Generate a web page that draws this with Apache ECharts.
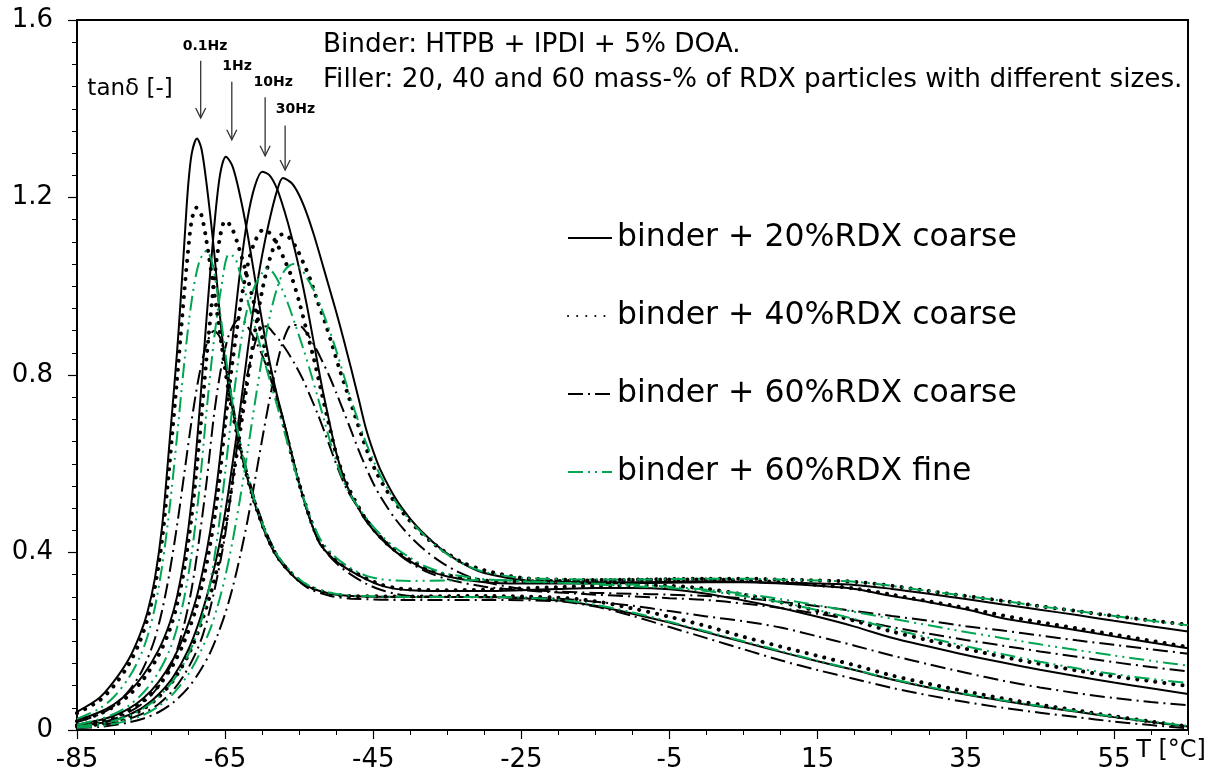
<!DOCTYPE html>
<html><head><meta charset="utf-8">
<script src="https://cdn.jsdelivr.net/npm/echarts@6/dist/echarts.min.js"></script>
<style>html,body{margin:0;padding:0;background:#fff;}#c{width:1216px;height:779px;}</style>
</head><body><div id="c"></div>
<script>
// ---------- data (temperature in °C, tan delta) ----------
const X_LABELS = [-85, -65, -45, -25, -5, 15, 35, 55];
const X_MINOR = [-85,-80,-75,-70,-65,-60,-55,-50,-45,-40,-35,-30,-25,-20,-15,-10,-5,0,5,10,15,20,25,30,35,40,45,50,55,60,65];
const NAMES = ['binder + 20%RDX coarse', 'binder + 40%RDX coarse', 'binder + 60%RDX coarse', 'binder + 60%RDX fine'];
const FREQ_LABELS = ['0.1Hz', '1Hz', '10Hz', '30Hz'];

// 20% coarse (solid)
const S20_01 = [[-85,0.041],[-82,0.072],[-80,0.110],[-78,0.160],[-76.5,0.215],[-75.5,0.265],[-74.5,0.340],[-73.5,0.460],[-72.5,0.650],[-71.5,0.850],[-71,0.970],[-70.5,1.100],[-70,1.225],[-69.5,1.300],[-68.8,1.333],[-68.2,1.310],[-67.5,1.230],[-66.5,1.080],[-65.5,0.900],[-64.5,0.770],[-63.5,0.680],[-62.5,0.600],[-61,0.510],[-59.5,0.440],[-58,0.390],[-56,0.350],[-54,0.325],[-51,0.308],[-48,0.302],[-40,0.300],[-30,0.300],[-20,0.292],[-15,0.280],[-10,0.262],[-5,0.242],[0,0.220],[5,0.198],[10,0.176],[15,0.155],[20,0.135],[25,0.114],[30,0.096],[35,0.080],[40,0.066],[45,0.053],[50,0.041],[55,0.029],[60,0.018],[65,0.008]];
const S20_1 = [[-85,0.022],[-82,0.040],[-80,0.058],[-78,0.085],[-76,0.125],[-74,0.180],[-72.5,0.240],[-71.5,0.300],[-70.5,0.390],[-69.5,0.520],[-68.5,0.710],[-67.5,0.930],[-66.5,1.130],[-65.7,1.250],[-64.9,1.292],[-64,1.270],[-63,1.205],[-62,1.120],[-61,1.020],[-60,0.920],[-59,0.830],[-58,0.755],[-57,0.690],[-56,0.620],[-55,0.555],[-54,0.498],[-53,0.450],[-52,0.415],[-50,0.380],[-48,0.358],[-46,0.340],[-44,0.326],[-42,0.318],[-40,0.315],[-35,0.313],[-30,0.313],[-25,0.315],[-20,0.318],[-15,0.320],[-10,0.320],[-5,0.317],[0,0.307],[5,0.292],[10,0.275],[15,0.255],[20,0.233],[25,0.208],[30,0.188],[35,0.169],[40,0.152],[45,0.136],[50,0.121],[55,0.107],[60,0.094],[65,0.081]];
const S20_10 = [[-85,0.012],[-82,0.022],[-80,0.032],[-78,0.048],[-76,0.072],[-74,0.108],[-72,0.160],[-70.5,0.215],[-69,0.290],[-68,0.360],[-67,0.450],[-66,0.570],[-65,0.720],[-64,0.880],[-63,1.030],[-62,1.150],[-61,1.225],[-60,1.258],[-59,1.250],[-58,1.220],[-57,1.170],[-56,1.110],[-55,1.040],[-54,0.960],[-53,0.870],[-52,0.780],[-51,0.700],[-50,0.625],[-49,0.570],[-48,0.530],[-47,0.500],[-46,0.472],[-44,0.432],[-42,0.402],[-40,0.380],[-38,0.362],[-35,0.346],[-30,0.333],[-25,0.330],[-20,0.330],[-15,0.330],[-10,0.331],[-5,0.332],[0,0.333],[5,0.333],[10,0.330],[15,0.325],[20,0.318],[25,0.302],[30,0.288],[35,0.272],[40,0.252],[45,0.238],[50,0.225],[55,0.211],[60,0.197],[65,0.184]];
const S20_30 = [[-85,0.008],[-82,0.015],[-80,0.022],[-78,0.034],[-76,0.052],[-74,0.080],[-72,0.120],[-70,0.180],[-68.5,0.245],[-67,0.330],[-66,0.400],[-65,0.490],[-64,0.600],[-63,0.720],[-62,0.850],[-61,0.970],[-60,1.070],[-59,1.150],[-58,1.215],[-57.2,1.244],[-56,1.232],[-55,1.205],[-54,1.165],[-53,1.115],[-52,1.058],[-51,1.000],[-50,0.942],[-49,0.880],[-48,0.815],[-47,0.748],[-46,0.680],[-45,0.628],[-44,0.585],[-42,0.522],[-40,0.476],[-38,0.440],[-36,0.410],[-34,0.386],[-32,0.367],[-30,0.354],[-25,0.338],[-20,0.334],[-15,0.333],[-10,0.333],[-5,0.334],[0,0.335],[5,0.334],[10,0.332],[15,0.330],[20,0.327],[25,0.318],[30,0.307],[35,0.295],[40,0.283],[45,0.271],[50,0.259],[55,0.246],[60,0.234],[65,0.222]];

// 40% coarse (dotted)
const S40_01 = [[-85,0.038],[-82,0.066],[-80,0.100],[-78,0.148],[-76.5,0.200],[-75.5,0.250],[-74.5,0.320],[-73.5,0.430],[-72.5,0.600],[-71.5,0.790],[-71,0.890],[-70.5,0.990],[-70,1.080],[-69.5,1.150],[-68.9,1.177],[-68.2,1.160],[-67.5,1.100],[-66.5,0.990],[-65.5,0.870],[-64.5,0.760],[-63.5,0.675],[-62.5,0.600],[-61,0.512],[-59.5,0.442],[-58,0.392],[-56,0.352],[-54,0.326],[-51,0.308],[-48,0.302],[-40,0.301],[-30,0.302],[-20,0.298],[-15,0.290],[-10,0.274],[-5,0.255],[0,0.234],[5,0.210],[10,0.188],[15,0.167],[20,0.146],[25,0.123],[30,0.104],[35,0.087],[40,0.071],[45,0.057],[50,0.044],[55,0.031],[60,0.019],[65,0.008]];
const S40_1 = [[-85,0.020],[-82,0.036],[-80,0.053],[-78,0.078],[-76,0.115],[-74,0.168],[-72.5,0.225],[-71.5,0.283],[-70.5,0.365],[-69.5,0.485],[-68.5,0.650],[-67.5,0.840],[-66.5,1.010],[-65.7,1.110],[-65,1.147],[-64.2,1.135],[-63.2,1.090],[-62,1.020],[-61,0.955],[-60,0.885],[-59,0.812],[-58,0.745],[-57,0.683],[-56,0.618],[-55,0.555],[-54,0.500],[-53,0.453],[-52,0.418],[-50,0.382],[-48,0.360],[-46,0.342],[-44,0.328],[-42,0.320],[-40,0.317],[-35,0.315],[-30,0.316],[-25,0.319],[-20,0.322],[-15,0.325],[-10,0.326],[-5,0.325],[0,0.318],[5,0.305],[10,0.288],[15,0.268],[20,0.246],[25,0.222],[30,0.202],[35,0.183],[40,0.165],[45,0.149],[50,0.134],[55,0.121],[60,0.110],[65,0.099]];
const S40_10 = [[-85,0.011],[-82,0.020],[-80,0.029],[-78,0.044],[-76,0.066],[-74,0.099],[-72,0.148],[-70.5,0.200],[-69,0.270],[-68,0.335],[-67,0.420],[-66,0.530],[-65,0.690],[-64,0.830],[-63,0.950],[-62,1.045],[-61,1.100],[-59.8,1.128],[-59,1.120],[-58,1.095],[-57,1.060],[-56,1.020],[-55,0.965],[-54,0.900],[-53,0.835],[-52,0.762],[-51,0.690],[-50,0.622],[-49,0.572],[-48,0.534],[-47,0.503],[-46,0.475],[-44,0.434],[-42,0.404],[-40,0.383],[-38,0.365],[-35,0.349],[-30,0.337],[-25,0.335],[-20,0.336],[-15,0.337],[-10,0.338],[-5,0.339],[0,0.339],[5,0.337],[10,0.333],[15,0.327],[20,0.319],[25,0.305],[30,0.290],[35,0.275],[40,0.258],[45,0.243],[50,0.229],[55,0.215],[60,0.201],[65,0.187]];
const S40_30 = [[-85,0.007],[-82,0.013],[-80,0.020],[-78,0.031],[-76,0.048],[-74,0.074],[-72,0.112],[-70,0.168],[-68.5,0.228],[-67,0.305],[-66,0.370],[-65,0.455],[-64,0.560],[-63,0.670],[-62,0.785],[-61,0.895],[-60,0.990],[-59,1.060],[-58,1.105],[-57.3,1.117],[-56.5,1.112],[-55.5,1.090],[-54.5,1.055],[-53.5,1.015],[-52.5,0.965],[-51.5,0.918],[-50.5,0.865],[-49.5,0.810],[-48.5,0.760],[-47.5,0.710],[-46.5,0.660],[-45.5,0.615],[-44.5,0.578],[-43,0.535],[-41,0.490],[-39,0.452],[-37,0.422],[-35,0.398],[-33,0.378],[-30,0.360],[-25,0.343],[-20,0.339],[-15,0.338],[-10,0.339],[-5,0.340],[0,0.341],[5,0.341],[10,0.339],[15,0.337],[20,0.334],[25,0.325],[30,0.313],[35,0.302],[40,0.291],[45,0.279],[50,0.268],[55,0.257],[60,0.247],[65,0.237]];

// 60% coarse (dash-dot)
const S60C_01 = [[-85,0.018],[-82,0.035],[-80,0.055],[-78,0.088],[-76.5,0.125],[-75.5,0.160],[-74.5,0.205],[-73.5,0.270],[-72.5,0.355],[-71.5,0.460],[-70.5,0.580],[-69.5,0.700],[-68.5,0.800],[-67.5,0.870],[-66.5,0.900],[-65.7,0.885],[-65,0.835],[-64.2,0.760],[-63.5,0.690],[-62.5,0.612],[-61,0.520],[-59.5,0.448],[-58,0.396],[-56,0.352],[-54,0.322],[-51,0.303],[-48,0.296],[-40,0.293],[-30,0.293],[-20,0.290],[-15,0.278],[-10,0.257],[-5,0.232],[0,0.207],[5,0.182],[10,0.157],[15,0.135],[20,0.115],[25,0.095],[30,0.078],[35,0.063],[40,0.050],[45,0.039],[50,0.029],[55,0.019],[60,0.011],[65,0.004]];
const S60C_1 = [[-85,0.008],[-82,0.016],[-80,0.025],[-78,0.040],[-76,0.062],[-74,0.098],[-72.5,0.140],[-71.5,0.180],[-70.5,0.240],[-69.5,0.320],[-68.5,0.430],[-67.5,0.560],[-66.5,0.710],[-65.5,0.820],[-64.5,0.890],[-63.5,0.922],[-62.8,0.925],[-62,0.910],[-61,0.880],[-60,0.845],[-59,0.800],[-58,0.748],[-57,0.690],[-56,0.622],[-55,0.556],[-54,0.498],[-53,0.450],[-52,0.414],[-50,0.376],[-48,0.350],[-46,0.330],[-44,0.316],[-42,0.307],[-40,0.302],[-35,0.300],[-30,0.299],[-25,0.298],[-20,0.296],[-15,0.289],[-10,0.280],[-5,0.268],[0,0.256],[5,0.245],[10,0.231],[15,0.211],[20,0.190],[25,0.168],[30,0.148],[35,0.129],[40,0.111],[45,0.096],[50,0.083],[55,0.072],[60,0.063],[65,0.056]];
const S60C_10 = [[-85,0.006],[-82,0.011],[-80,0.016],[-78,0.025],[-76,0.038],[-74,0.058],[-72,0.090],[-70.5,0.125],[-69,0.172],[-68,0.215],[-67,0.275],[-66,0.350],[-65,0.440],[-64,0.560],[-63,0.690],[-62,0.800],[-61,0.870],[-60.2,0.905],[-59.4,0.910],[-58.5,0.895],[-57.5,0.875],[-56.5,0.850],[-55.5,0.822],[-54.5,0.790],[-53.5,0.752],[-52.5,0.712],[-51.5,0.668],[-50.5,0.622],[-49.5,0.578],[-48.5,0.540],[-47,0.500],[-45.5,0.466],[-44,0.436],[-42,0.402],[-40,0.377],[-38,0.358],[-35,0.340],[-30,0.323],[-25,0.315],[-20,0.310],[-15,0.305],[-10,0.301],[-5,0.297],[0,0.293],[5,0.285],[10,0.275],[15,0.262],[20,0.248],[25,0.232],[30,0.217],[35,0.203],[40,0.190],[45,0.177],[50,0.165],[55,0.153],[60,0.142],[65,0.132]];
const S60C_30 = [[-85,0.004],[-82,0.007],[-80,0.011],[-78,0.017],[-76,0.026],[-74,0.040],[-72,0.062],[-70,0.095],[-68.5,0.130],[-67,0.175],[-66,0.215],[-65,0.262],[-64,0.320],[-63,0.390],[-62,0.470],[-61,0.560],[-60,0.655],[-59,0.745],[-58,0.825],[-57,0.885],[-56,0.913],[-55,0.912],[-54,0.895],[-53,0.868],[-52,0.835],[-51,0.800],[-50,0.760],[-49,0.718],[-48,0.675],[-47,0.632],[-46,0.592],[-45,0.556],[-44,0.525],[-42,0.475],[-40,0.436],[-38,0.405],[-36,0.380],[-34,0.360],[-32,0.345],[-30,0.334],[-25,0.318],[-20,0.312],[-15,0.309],[-10,0.307],[-5,0.305],[0,0.302],[5,0.297],[10,0.289],[15,0.279],[20,0.268],[25,0.257],[30,0.246],[35,0.234],[40,0.224],[45,0.213],[50,0.202],[55,0.192],[60,0.182],[65,0.172]];

// 60% fine (green dash-dot-dot)
const S60F_01 = [[-85,0.025],[-82,0.048],[-80,0.075],[-78,0.118],[-76.5,0.165],[-75.5,0.210],[-74.5,0.275],[-73.5,0.370],[-72.5,0.500],[-71.5,0.660],[-70.5,0.830],[-69.5,0.970],[-68.5,1.055],[-67.5,1.080],[-66.7,1.050],[-66,0.980],[-65.2,0.880],[-64.5,0.790],[-63.5,0.690],[-62.5,0.610],[-61,0.515],[-59.5,0.445],[-58,0.395],[-56,0.355],[-54,0.328],[-51,0.310],[-48,0.303],[-40,0.300],[-30,0.300],[-20,0.294],[-15,0.282],[-10,0.265],[-5,0.244],[0,0.222],[5,0.200],[10,0.178],[15,0.156],[20,0.136],[25,0.115],[30,0.097],[35,0.081],[40,0.067],[45,0.054],[50,0.042],[55,0.030],[60,0.019],[65,0.009]];
const S60F_1 = [[-85,0.012],[-82,0.024],[-80,0.036],[-78,0.055],[-76,0.085],[-74,0.130],[-72.5,0.180],[-71.5,0.230],[-70.5,0.300],[-69.5,0.400],[-68.5,0.540],[-67.5,0.720],[-66.5,0.880],[-65.5,1.000],[-64.5,1.072],[-63.7,1.065],[-63,1.030],[-62,0.970],[-61,0.910],[-60,0.850],[-59,0.790],[-58,0.732],[-57,0.672],[-56,0.612],[-55,0.553],[-54,0.503],[-53,0.460],[-52,0.426],[-50,0.388],[-48,0.364],[-46,0.348],[-44,0.340],[-42,0.337],[-40,0.336],[-35,0.337],[-30,0.338],[-25,0.336],[-20,0.332],[-15,0.328],[-10,0.324],[-5,0.320],[0,0.313],[5,0.302],[10,0.288],[15,0.270],[20,0.250],[25,0.228],[30,0.208],[35,0.189],[40,0.171],[45,0.154],[50,0.139],[55,0.126],[60,0.115],[65,0.106]];
const S60F_10 = [[-85,0.008],[-82,0.014],[-80,0.021],[-78,0.032],[-76,0.049],[-74,0.074],[-72,0.112],[-70.5,0.152],[-69,0.208],[-68,0.260],[-67,0.335],[-66,0.440],[-65,0.580],[-64,0.730],[-63,0.860],[-62,0.950],[-61,1.000],[-60,1.030],[-59.3,1.040],[-58.5,1.030],[-57.5,1.000],[-56.5,0.960],[-55.5,0.912],[-54.5,0.862],[-53.5,0.808],[-52.5,0.750],[-51.5,0.690],[-50.5,0.632],[-49.5,0.582],[-48.5,0.542],[-47,0.502],[-45.5,0.468],[-44,0.440],[-42,0.410],[-40,0.388],[-38,0.369],[-35,0.352],[-30,0.340],[-25,0.335],[-20,0.332],[-15,0.330],[-10,0.328],[-5,0.323],[0,0.316],[5,0.307],[10,0.295],[15,0.281],[20,0.266],[25,0.251],[30,0.236],[35,0.221],[40,0.207],[45,0.193],[50,0.180],[55,0.168],[60,0.156],[65,0.145]];
const S60F_30 = [[-85,0.005],[-82,0.009],[-80,0.014],[-78,0.022],[-76,0.034],[-74,0.053],[-72,0.082],[-70,0.125],[-68.5,0.170],[-67,0.228],[-66,0.280],[-65,0.345],[-64,0.425],[-63,0.520],[-62,0.625],[-61,0.735],[-60,0.840],[-59,0.930],[-58,0.995],[-57,1.035],[-55.8,1.050],[-54.8,1.040],[-54,1.020],[-53,0.990],[-52,0.950],[-51,0.905],[-50,0.855],[-49,0.800],[-48,0.745],[-47,0.695],[-46,0.648],[-45,0.608],[-44,0.572],[-42,0.515],[-40,0.472],[-38,0.437],[-36,0.408],[-34,0.385],[-32,0.368],[-30,0.356],[-25,0.343],[-20,0.340],[-15,0.339],[-10,0.339],[-5,0.340],[0,0.341],[5,0.341],[10,0.339],[15,0.337],[20,0.334],[25,0.325],[30,0.313],[35,0.302],[40,0.291],[45,0.279],[50,0.268],[55,0.257],[60,0.246],[65,0.236]];

// frequency arrows (data units)
const ARROW_T = [-68.3, -64.1, -59.6, -56.9];
const ARROW_TOP = [1.508, 1.461, 1.426, 1.362];
const ARROW_TIP = [1.379, 1.330, 1.294, 1.262];
const FLABEL_T = [-67.7, -63.4, -58.5, -55.5];
const FLABEL_V = [1.541, 1.496, 1.460, 1.399];

// ---------- chart ----------
const FONT = 'DejaVu Sans';
const GROUPS = [
  {name: NAMES[0], data: [S20_01, S20_1, S20_10, S20_30], style: {color: '#000', width: 2, type: 'solid'}},
  {name: NAMES[1], data: [S40_01, S40_1, S40_10, S40_30], style: {color: '#000', width: 4, type: [0.1, 9], cap: 'round'}},
  {name: NAMES[2], data: [S60C_01, S60C_1, S60C_10, S60C_30], style: {color: '#000', width: 2, type: [15, 5, 2, 5]}},
  {name: NAMES[3], data: [S60F_01, S60F_1, S60F_10, S60F_30], style: {color: '#00a651', width: 2, type: [15, 5, 2, 5, 2, 5]}}
];
const drawOrder = [3, 2, 1, 0];
const series = [];
drawOrder.forEach(g => {
  GROUPS[g].data.forEach((d, i) => {
    series.push({
      name: GROUPS[g].name, type: 'line', data: d,
      xAxisIndex: 0, yAxisIndex: 0,
      symbol: 'none', showSymbol: false, smooth: 0.3,
      lineStyle: Object.assign({}, GROUPS[g].style),
      itemStyle: {color: GROUPS[g].style.color},
      emphasis: {disabled: true}, silent: true, z: 2 + g
    });
  });
});

const chart = echarts.init(document.getElementById('c'), null, {renderer: 'canvas'});
chart.setOption({
  animation: false,
  backgroundColor: '#fff',
  grid: {left: 77, top: 20, right: 28, bottom: 49, show: true, borderColor: '#000', borderWidth: 2, backgroundColor: 'transparent'},
  legend: {
    data: NAMES, orient: 'vertical', left: 567, top: 221, padding: 0,
    itemWidth: 44, itemHeight: 16, itemGap: 44,
    itemStyle: {color: 'transparent', borderWidth: 0, opacity: 0},
    textStyle: {fontFamily: FONT, fontSize: 31.5, color: '#000', lineHeight: 34},
    selectedMode: false
  },
  xAxis: [{
    type: 'value', min: -85, max: 65, position: 'bottom',
    axisLine: {show: true, onZero: false, lineStyle: {color: '#000', width: 2}},
    axisTick: {show: true, inside: false, length: 9, customValues: X_LABELS, lineStyle: {color: '#000', width: 1.2}},
    axisLabel: {show: true, customValues: X_LABELS, margin: 17, fontFamily: FONT, fontSize: 26, color: '#000'},
    splitLine: {show: false}
  }, {
    type: 'value', min: -85, max: 65, position: 'bottom',
    axisLine: {show: false, onZero: false},
    axisTick: {show: true, inside: false, length: 5, customValues: X_MINOR, lineStyle: {color: '#000', width: 1}},
    axisLabel: {show: false},
    splitLine: {show: false}
  }],
  yAxis: {
    type: 'value', min: 0, max: 1.6, interval: 0.4,
    axisLine: {show: true, onZero: false, lineStyle: {color: '#000', width: 2}},
    axisTick: {show: true, inside: false, length: 9, lineStyle: {color: '#000', width: 1.2}},
    minorTick: {show: true, splitNumber: 8, length: 5, lineStyle: {color: '#000', width: 1}},
    axisLabel: {margin: 24, fontFamily: FONT, fontSize: 26, color: '#000'},
    splitLine: {show: false}, minorSplitLine: {show: false}
  },
  series: series
});

// ---------- annotations positioned through the axes ----------
const px = (t, v) => chart.convertToPixel({xAxisIndex: 0, yAxisIndex: 0}, [t, v]);
const graphics = [];
function addText(x, y, text, size, weight, align) {
  graphics.push({type: 'text', x: x, y: y, silent: true, z: 100,
    style: {text: text, fontFamily: FONT, fontSize: size, fontWeight: weight || 'normal', fill: '#000',
      align: align || 'left', verticalAlign: 'middle', textAlign: align || 'left', textVerticalAlign: 'middle'}});
}
for (let i = 0; i < 4; i++) {
  const a = px(ARROW_T[i], ARROW_TOP[i]);
  const b = px(ARROW_T[i], ARROW_TIP[i]);
  graphics.push({type: 'line', silent: true, z: 100, shape: {x1: a[0], y1: a[1], x2: b[0], y2: b[1]}, style: {stroke: '#333', lineWidth: 1.3}});
  graphics.push({type: 'polyline', silent: true, z: 100, shape: {points: [[b[0] - 5, b[1] - 10], [b[0], b[1]], [b[0] + 5, b[1] - 10]]}, style: {stroke: '#333', lineWidth: 1.3, fill: null}});
  const l = px(FLABEL_T[i], FLABEL_V[i]);
  addText(l[0], l[1], FREQ_LABELS[i], 14, 'bold', 'center');
}
const tl = px(-83.6, 1.445);
addText(tl[0], tl[1], 'tanδ [-]', 23, 'normal', 'left');
const h1 = px(-51.8, 1.543);
addText(h1[0], h1[1], 'Binder: HTPB + IPDI + 5% DOA.', 26.3, 'normal', 'left');
const h2 = px(-51.8, 1.464);
addText(h2[0], h2[1], 'Filler: 20, 40 and 60 mass-% of RDX particles with different sizes.', 26.3, 'normal', 'left');
const tu = px(58.0, -0.046);
addText(tu[0], tu[1], 'T [°C]', 24, 'normal', 'left');
chart.setOption({graphic: graphics});
</script>
</body></html>
